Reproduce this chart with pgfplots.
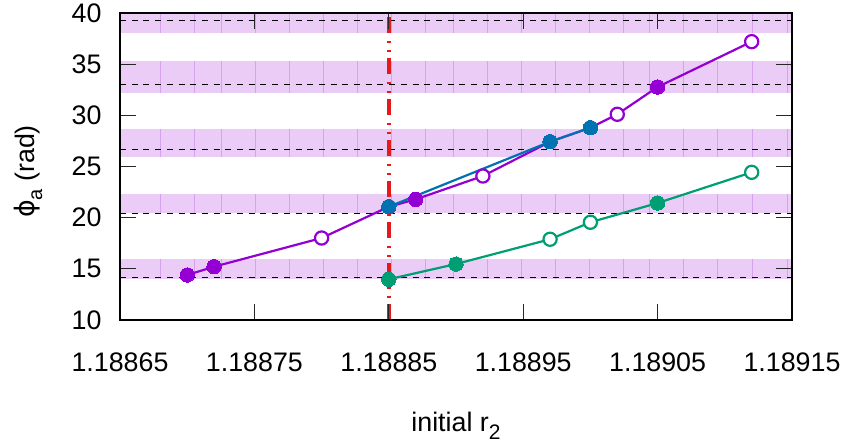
\documentclass[border=0pt]{standalone}
\usepackage{fontspec}
\setmainfont{Liberation Sans}
\newfontfamily\phifont{DejaVu Sans}
\usepackage{pgfplots}
\usepackage{pgfplotstable}
\pgfplotsset{compat=1.18}

\definecolor{cpurple}{RGB}{148,0,211}
\definecolor{cgreen}{RGB}{0,158,115}
\definecolor{cblue}{RGB}{0,114,178}
\definecolor{cred}{RGB}{228,26,28}
\definecolor{bandfill}{RGB}{234,204,246}
\definecolor{bandseam}{RGB}{214,162,238}

\pgfplotsset{
  solidonly/.style={restrict expr to domain={\thisrow{f}}{0.5:1.5}},
  openonly/.style={restrict expr to domain={\thisrow{f}}{-0.5:0.5}},
  filled/.style={only marks, mark=*, mark size=7.2bp,
    mark options={fill=#1, draw=#1, line width=0pt}},
  hollow/.style={only marks, mark=*, mark size=6.6bp,
    mark options={fill=white, draw=#1, line width=2.2bp}},
}

% x = (initial r2 - 1.188) * 1e5 ; f = 1 solid marker, 0 open marker
\pgfplotstableread{
x     y      f
7.0   14.40  1
7.2   15.21  1
8.0   18.01  0
8.5   21.07  1
8.7   21.79  1
9.2   24.07  0
9.7   27.42  1
10.0  28.79  1
10.2  30.10  0
10.5  32.77  1
11.2  37.20  0
}\purpledata

\pgfplotstableread{
x     y      f
8.5   13.98  1
9.0   15.47  1
9.7   17.89  0
10.0  19.55  0
10.5  21.43  1
11.2  24.43  0
}\greendata

\pgfplotstableread{
x     y      f
8.5   21.07  1
9.7   27.42  1
10.0  28.79  1
}\bluedata

\begin{document}
\begin{tikzpicture}
\useasboundingbox (0,0) rectangle (845bp,444bp);
\begin{axis}[
  at={(120bp,124bp)}, anchor=south west,
  scale only axis, width=672bp, height=307bp,
  xmin=6.5, xmax=11.5, ymin=10, ymax=40,
  xtick={6.5,7.5,8.5,9.5,10.5,11.5},
  xticklabels={1.18865,1.18875,1.18885,1.18895,1.18905,1.18915},
  ytick={10,15,20,25,30,35,40},
  /pgf/number format/assume math mode=true,
  font=\fontsize{26.8bp}{32bp}\selectfont,
  xticklabel style={anchor=base, inner sep=0pt, yshift=-51.7bp},
  yticklabel style={anchor=east, inner sep=0pt, xshift=-18.3bp},
  axis line style={line width=2bp, black},
  major tick length=16bp,
  tick style={line width=1.3bp, black!85},
  axis on top,
  xlabel={initial r\raisebox{-8bp}{\fontsize{21bp}{22bp}\selectfont 2}},
  xlabel style={at={(axis description cs:0.5,-0.3638)}, anchor=base, inner sep=0pt},
  ylabel={{\phifont ϕ}\raisebox{-8bp}{\fontsize{20bp}{22bp}\selectfont a} (rad)},
  ylabel style={at={(axis description cs:-0.137,0.4837)}, anchor=center, rotate=0, inner sep=0pt},
]
  % shaded phase bands
  \addplot[draw=none, fill=bandfill] coordinates {(6.5,14.02) (11.5,14.02) (11.5,15.96) (6.5,15.96)} -- cycle;
  \addplot[draw=none, fill=bandfill] coordinates {(6.5,20.48) (11.5,20.48) (11.5,22.31) (6.5,22.31)} -- cycle;
  \addplot[draw=none, fill=bandfill] coordinates {(6.5,25.96) (11.5,25.96) (11.5,28.66) (6.5,28.66)} -- cycle;
  \addplot[draw=none, fill=bandfill] coordinates {(6.5,32.21) (11.5,32.21) (11.5,35.31) (6.5,35.31)} -- cycle;
  \addplot[draw=none, fill=bandfill] coordinates {(6.5,38.07) (11.5,38.07) (11.5,40.5) (6.5,40.5)} -- cycle;
  % seams of the band fill
  \pgfplotsinvokeforeach{6.800,7.056,7.257,7.507,7.763,8.013,8.266,8.522,8.769,8.978,9.231,9.484,9.737,9.990,10.243,10.443,10.696,10.949,11.202,11.463}{
    \draw[bandseam, line width=0.9bp]
      (axis cs:#1,14.02) -- (axis cs:#1,15.96)
      (axis cs:#1,20.48) -- (axis cs:#1,22.31)
      (axis cs:#1,25.96) -- (axis cs:#1,28.66)
      (axis cs:#1,32.21) -- (axis cs:#1,35.31)
      (axis cs:#1,38.07) -- (axis cs:#1,40.5);
  }
  % reference levels (2k+1/2) pi
  \addplot[black, line width=1.1bp, dash pattern=on 6bp off 5.7bp] coordinates {(6.5,14.137) (11.5,14.137)};
  \addplot[black, line width=1.1bp, dash pattern=on 6bp off 5.7bp] coordinates {(6.5,20.420) (11.5,20.420)};
  \addplot[black, line width=1.1bp, dash pattern=on 6bp off 5.7bp] coordinates {(6.5,26.704) (11.5,26.704)};
  \addplot[black, line width=1.1bp, dash pattern=on 6bp off 5.7bp] coordinates {(6.5,32.987) (11.5,32.987)};
  \addplot[black, line width=1.1bp, dash pattern=on 6bp off 5.7bp] coordinates {(6.5,39.270) (11.5,39.270)};
  % critical r2
  \addplot[cred, line width=3.8bp, dash pattern=on 16bp off 6bp on 2bp off 7bp on 2bp off 8bp] coordinates {(8.5,10) (8.5,40)};
  % branches
  \addplot[cpurple, line width=2.2bp, no marks] table[x=x, y=y] {\purpledata};
  \addplot[cgreen, line width=2.2bp, no marks] table[x=x, y=y] {\greendata};
  \addplot[cblue, line width=2.2bp, no marks] table[x=x, y=y] {\bluedata};
  \addplot[filled=cpurple, solidonly] table[x=x, y=y] {\purpledata};
  \addplot[hollow=cpurple, openonly] table[x=x, y=y] {\purpledata};
  \addplot[filled=cgreen, solidonly] table[x=x, y=y] {\greendata};
  \addplot[hollow=cgreen, openonly] table[x=x, y=y] {\greendata};
  \addplot[filled=cblue] table[x=x, y=y] {\bluedata};
\end{axis}
\end{tikzpicture}
\end{document}
